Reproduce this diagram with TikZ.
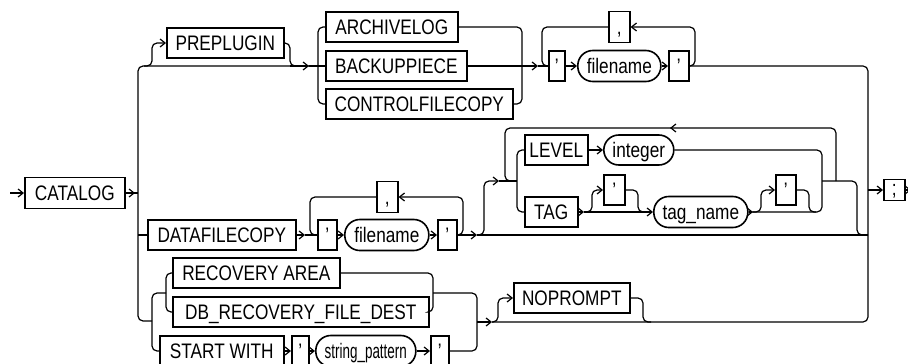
\documentclass[tikz,border=0pt]{standalone}
\usepackage{fontspec}
\newfontfamily\rrfont{Liberation Sans}[FakeStretch=0.82]
\usetikzlibrary{arrows.meta}
\begin{document}
\begin{tikzpicture}[x=1pt,y=-1pt,
  line width=1.2pt,
  font=\rrfont\fontsize{21pt}{21pt}\selectfont,
  kw/.style={draw, line width=1.6pt, rectangle, inner xsep=1pt, inner ysep=0pt,
             minimum height=30pt, text height=15pt, text depth=0pt, anchor=west},
  term/.style={kw, rounded corners=15pt},
  arr/.style={-{Straight Barb[length=5pt,width=8pt]}},
  rc/.style={rounded corners=5pt},
]
\useasboundingbox (0,0) rectangle (908,364);

% ---------- nodes ----------
\node[kw, minimum width=100pt, minimum height=31pt] (catalog) at (24,193) {CATALOG};
\node[kw, minimum width=117pt] (preplugin) at (166,43) {PREPLUGIN};
\node[kw, minimum width=132pt] (archivelog) at (325,27) {ARCHIVELOG};
\node[kw, minimum width=141pt] (backuppiece) at (325,66) {BACKUPPIECE};
\node[kw, minimum width=187pt] (controlfilecopy) at (325,104) {CONTROLFILECOPY};
\node[kw, minimum width=16pt] (qa) at (548,66) {’};
\node[kw, minimum width=21pt, minimum height=31pt] (comma1) at (608,27) {,};
\node[term, minimum width=83pt, minimum height=31pt] (file1) at (577,66) {filename};
\node[kw, minimum width=20pt] (qb) at (668,66) {’};

\node[kw, minimum width=148pt] (datafilecopy) at (147,235) {DATAFILECOPY};
\node[kw, minimum width=19pt] (qc) at (317,235) {’};
\node[kw, minimum width=21pt, minimum height=31pt] (comma2) at (376,197) {,};
\node[term, minimum width=84pt, minimum height=31pt] (file2) at (344,235) {filename};
\node[kw, minimum width=19pt] (qd) at (437,235) {’};
\node[kw, minimum width=63pt] (level) at (524,150) {LEVEL};
\node[term, minimum width=70pt] (integer) at (603,150) {integer};
\node[kw, minimum width=53pt] (tag) at (524,212) {TAG};
\node[kw, minimum width=21pt] (qe) at (603,190) {’};
\node[term, minimum width=94pt, minimum height=31pt] (tagname) at (653,212) {tag\_name};
\node[kw, minimum width=20pt] (qf) at (775,190) {’};

\node[kw, minimum width=21pt, minimum height=21pt, text height=11pt] (semi) at (883,190) {;};

\node[kw, minimum width=167pt] (recovery) at (172,273) {RECOVERY AREA};
\node[kw, minimum width=256pt] (dbrec) at (172,312) {DB\_RECOVERY\_FILE\_DEST};
\node[kw, minimum width=124pt] (startwith) at (159,351) {START WITH};
\node[kw, minimum width=17pt] (qg) at (291,351) {’};
\node[term, minimum width=100pt, minimum height=31pt] (strpat) at (315,351) {\scalebox{0.78}[1]{string\_pattern}};
\node[kw, minimum width=18pt] (qh) at (430,351) {’};
\node[kw, minimum width=116pt] (noprompt) at (513,298) {NOPROMPT};

% ---------- entry / exit ----------
\draw[arr] (10,193) -- (catalog.west);
\draw (catalog.east) -- (138,193);
\draw[arr] (catalog.east) -- (135,193);
\draw[arr] (868,190) -- (semi.west);
\draw[arr] (semi.east) -- (911,190);

% main left vertical
\draw[rc] (318,66) -- (138,66) -- (138,321) -- (152,321);
% main right vertical
\draw[rc] (qb.east) -- (868,66) -- (868,322) -- (492,322);

% ---------- branch 1 ----------
\draw[rc,arr] (144,66) -- (152,66) -- (152,43) -- (preplugin.west);
\draw[rc] (preplugin.east) -- (290,43) -- (290,66) -- (298,66);
\draw[arr] (290,66) -- (309,66);
\draw (309,66) -- (backuppiece.west);
\draw[rc] (archivelog.west) -- (318,27) -- (318,104) -- (controlfilecopy.west);
\draw[rc] (archivelog.east) -- (522,27) -- (522,104) -- (controlfilecopy.east);
\draw[arr] (backuppiece.east) -- (538,66);
\draw (538,66) -- (qa.west);
\draw[rc] (comma1.west) -- (542,27) -- (542,66) -- (qa.west);
\draw[arr] (qa.east) -- (file1.west);
\draw[arr] (file1.east) -- (qb.west);
\draw[rc,arr] (qb.east) -- (695,66) -- (695,27) -- (comma1.east);

% ---------- branch 2 ----------
\draw (138,235) -- (datafilecopy.west);
\draw[arr] (datafilecopy.east) -- (305,235);
\draw (305,235) -- (qc.west);
\draw[rc] (comma2.west) -- (310,197) -- (310,235) -- (qc.west);
\draw[arr] (qc.east) -- (file2.west);
\draw[arr] (file2.east) -- (qd.west);
\draw[rc,arr] (qd.east) -- (463,235) -- (463,197) -- (comma2.east);
\draw[arr] (qd.east) -- (477,235);
\draw (477,235) -- (868,235);
\draw[rc,arr] (477,235) -- (484,235) -- (484,181) -- (499,181);
\draw (499,181) -- (517,181);
\draw[rc,arr] (836,181) -- (836,128) -- (670,128);
\draw[rc] (672,128) -- (505,128) -- (505,181) -- (512,181);
\draw[rc] (level.west) -- (517,150) -- (517,212) -- (tag.west);
\draw[arr] (level.east) -- (integer.west);
\draw[rc] (integer.east) -- (822,150) -- (822,212) -- (tagname.east);
\draw[arr] (tag.east) -- (584,212);
\draw[arr] (584,212) -- (tagname.west);
\draw[rc,arr] (584,212) -- (592,212) -- (592,190) -- (qe.west);
\draw[rc] (qe.east) -- (638,190) -- (638,212) -- (646,212);
\draw[arr] (tagname.east) -- (753,212);
\draw[rc,arr] (753,212) -- (761,212) -- (761,190) -- (qf.west);
\draw[rc] (qf.east) -- (809,190) -- (809,212) -- (816,212);
\draw[rc] (822,181) -- (857,181) -- (857,235) -- (868,235);

% ---------- branch 3 ----------
\draw[rc] (recovery.west) -- (166,273) -- (166,312) -- (dbrec.west);
\draw[rc] (166,293) -- (152,293) -- (152,351) -- (startwith.west);
\draw[rc] (recovery.east) -- (433,273) -- (433,312) -- (dbrec.east);
\draw[rc] (433,293) -- (477,293) -- (477,351) -- (qh.east);
\draw[arr] (startwith.east) -- (qg.west);
\draw[arr] (qg.east) -- (strpat.west);
\draw[arr] (strpat.east) -- (qh.west);
\draw[arr] (477,322) -- (492,322);
\draw[rc,arr] (492,322) -- (498,322) -- (498,298) -- (noprompt.west);
\draw[rc] (noprompt.east) -- (643,298) -- (643,322) -- (651,322);
\end{tikzpicture}
\end{document}
